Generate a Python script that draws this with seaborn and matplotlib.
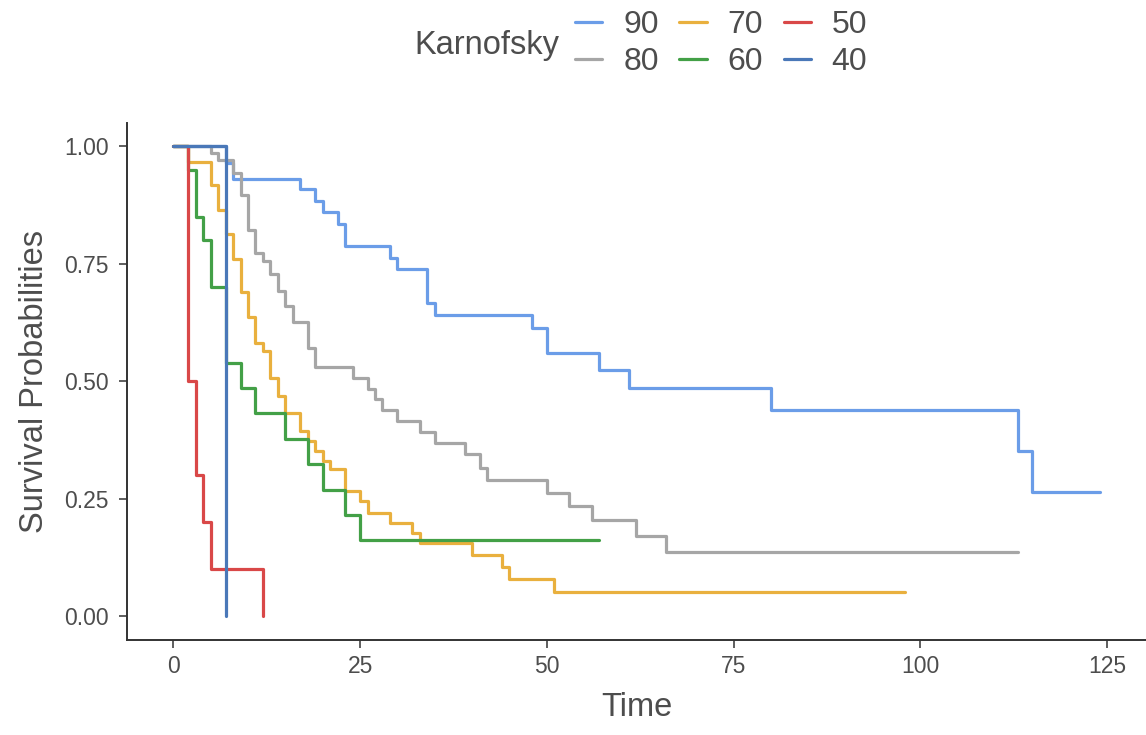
import matplotlib
matplotlib.use("Agg")
import matplotlib.pyplot as plt
import seaborn as sns
import pandas as pd

# Kaplan-Meier step estimates per Karnofsky group: event times and survival after each step
groups = ["90", "80", "70", "60", "50", "40"]

time_90 = [0, 7, 8, 17, 19, 20, 22, 23, 29, 30, 34, 35, 48, 50, 57, 61, 80, 113, 115, 124]
surv_90 = [1.0, 0.965, 0.931, 0.909, 0.884, 0.860, 0.836, 0.789, 0.763, 0.739, 0.666,
           0.641, 0.614, 0.560, 0.524, 0.487, 0.440, 0.352, 0.264, 0.264]

time_80 = [0, 5, 6, 8, 9, 10, 11, 12, 13, 14, 15, 16, 18, 19, 24, 26, 27, 28, 30, 33,
           35, 39, 41, 42, 50, 53, 56, 62, 66, 113]
surv_80 = [1.0, 0.986, 0.971, 0.944, 0.896, 0.823, 0.774, 0.756, 0.728, 0.692, 0.660,
           0.626, 0.572, 0.530, 0.508, 0.485, 0.462, 0.440, 0.416, 0.392, 0.369, 0.345,
           0.316, 0.291, 0.263, 0.235, 0.206, 0.171, 0.137, 0.137]

time_70 = [0, 2, 5, 6, 7, 8, 9, 10, 11, 12, 13, 14, 15, 17, 18, 19, 20, 21, 23, 25, 26,
           29, 32, 33, 40, 44, 45, 51, 98]
surv_70 = [1.0, 0.967, 0.917, 0.864, 0.813, 0.760, 0.690, 0.637, 0.582, 0.565, 0.508,
           0.469, 0.433, 0.394, 0.373, 0.352, 0.330, 0.313, 0.267, 0.245, 0.221, 0.199,
           0.178, 0.157, 0.131, 0.105, 0.079, 0.052, 0.052]

time_60 = [0, 2, 3, 4, 5, 7, 9, 11, 15, 18, 20, 23, 25, 57]
surv_60 = [1.0, 0.95, 0.85, 0.80, 0.70, 0.54, 0.486, 0.432, 0.378, 0.324, 0.270, 0.216,
           0.162, 0.162]

time_50 = [0, 2, 3, 4, 5, 12]
surv_50 = [1.0, 0.5, 0.3, 0.2, 0.1, 0.0]

time_40 = [0, 7]
surv_40 = [1.0, 0.0]

colors = ["#6b9de8", "#a6a6a6", "#e9b03e", "#43a047", "#d94848", "#4a78b8"]

x_ticks = [0, 25, 50, 75, 100, 125]
y_ticks = [0.0, 0.25, 0.50, 0.75, 1.00]
y_tick_labels = ["0.00", "0.25", "0.50", "0.75", "1.00"]

frames = []
for g, t, s in zip(groups,
                   [time_90, time_80, time_70, time_60, time_50, time_40],
                   [surv_90, surv_80, surv_70, surv_60, surv_50, surv_40]):
    frames.append(pd.DataFrame({"Time": t, "Survival": s, "Karnofsky": g}))
df = pd.concat(frames, ignore_index=True)

sns.set_theme(style="ticks")
plt.rcParams["font.family"] = ["Liberation Sans", "DejaVu Sans"]

fig = plt.figure(figsize=(11.46, 7.35), dpi=100)
ax = fig.add_axes([0.1108, 0.1293, 0.8892, 0.7034])

sns.lineplot(data=df, x="Time", y="Survival", hue="Karnofsky", hue_order=groups,
             palette=colors, drawstyle="steps-post", estimator=None, sort=False,
             linewidth=2.3, ax=ax, legend=True)

ax.set_xlim(-6.2, 130.2)
ax.set_ylim(-0.05, 1.05)
ax.set_xticks(x_ticks)
ax.set_xticklabels([str(v) for v in x_ticks])
ax.set_yticks(y_ticks)
ax.set_yticklabels(y_tick_labels)

text_col = "#4d4d4d"
ax.tick_params(axis="both", labelsize=16.5, colors="#333333", labelcolor=text_col,
               length=6, width=1.1)
ax.tick_params(axis="y", pad=7)
ax.tick_params(axis="x", pad=5)
for side in ["left", "bottom"]:
    ax.spines[side].set_color("#333333")
    ax.spines[side].set_linewidth(1.4)
for side in ["top", "right"]:
    ax.spines[side].set_visible(False)

ax.set_xlabel("Time", fontsize=23.5, color=text_col, labelpad=10)
ax.set_ylabel("Survival Probabilities", fontsize=23.5, color=text_col, labelpad=10)

handles, labels = ax.get_legend_handles_labels()
ax.get_legend().remove()
leg = fig.legend(handles, labels, ncol=3, loc="center left",
                 bbox_to_anchor=(0.502, 0.9405), frameon=False, fontsize=23,
                 handlelength=0.85, handletextpad=0.65, columnspacing=0.65,
                 labelspacing=0.22, borderpad=0, borderaxespad=0)
for txt in leg.get_texts():
    txt.set_color(text_col)
fig.text(0.362, 0.9385, "Karnofsky", fontsize=23.5, color=text_col,
         ha="left", va="center")

fig.savefig("out.png", dpi=100)
